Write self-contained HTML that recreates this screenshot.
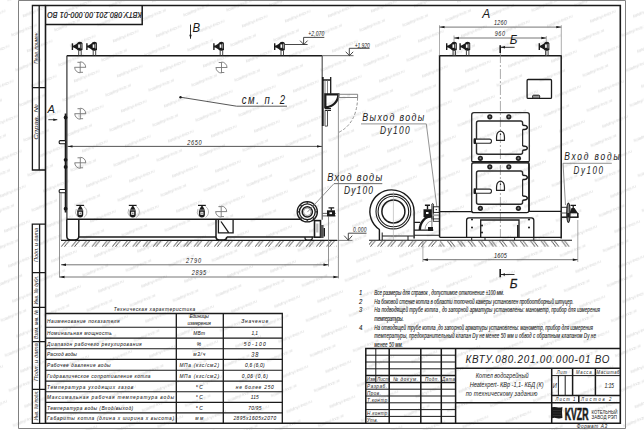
<!DOCTYPE html>
<html><head><meta charset="utf-8">
<style>
html,body{margin:0;padding:0;background:#fff;width:644px;height:430px;overflow:hidden}
svg{display:block}
text{font-family:"Liberation Sans",sans-serif;font-style:italic}
.up{font-style:normal}
.b{font-weight:bold}
</style></head>
<body>
<svg width="644" height="430" viewBox="0 0 644 430" fill="#1a1a1a">
<rect x="0" y="0" width="644" height="430" fill="#fff"/>
<rect x="0" y="0" width="644" height="430" fill="url(#wm)"/>
<!-- FRAME -->
<g id="frame" fill="none">
<path d="M18.5 0.5 H625.5 V428.5 H18.5 Z" stroke="#808080" stroke-width="1"/>
<path d="M45.5 5.5 H620.3 V423.3 H45.5 Z" stroke="#1a1a1a" stroke-width="1.6"/>
<!-- top-left stamp -->
<path d="M45.5 24.4 H142.2 V5.5" stroke="#1a1a1a" stroke-width="1.5"/>
<!-- left stamps upper -->
<path d="M45.5 5.5 H32.4 V170 H45.5 M39.2 5.5 V170 M32.4 87.6 H45.5" stroke="#1a1a1a" stroke-width="1.3"/>
<!-- left stamps lower -->
<path d="M45.5 224.2 H32.3 V423.3 H45.5 M39.6 224.2 V423.3 M32.3 272.6 H45.5 M32.3 307.3 H45.5 M32.3 341.6 H45.5 M32.3 389.3 H45.5" stroke="#1a1a1a" stroke-width="1.3"/>
</g>
<g id="stamptext" font-size="5.2">
<text transform="translate(141.8,11.9) rotate(180) scale(0.85,1)" font-size="8.3" stroke="#1a1a1a" stroke-width="0.25" textLength="111.2" lengthAdjust="spacing">КВТУ.080.201.00.000-01 ВО</text>
<text transform="translate(38.2,63.8) rotate(-90)" font-size="5.6" textLength="32.6" lengthAdjust="spacingAndGlyphs">Перв. примен.</text>
<text transform="translate(38.2,139.8) rotate(-90)" font-size="5.6" textLength="35.5" lengthAdjust="spacingAndGlyphs">Справ. №</text>
<text transform="translate(38.2,262) rotate(-90)" font-size="5.6" textLength="34" lengthAdjust="spacingAndGlyphs">Подп. и дата</text>
<text transform="translate(38.2,304.5) rotate(-90)" font-size="5.6" textLength="29" lengthAdjust="spacingAndGlyphs">Инв. № дубл.</text>
<text transform="translate(38.2,339) rotate(-90)" font-size="5.6" textLength="29" lengthAdjust="spacingAndGlyphs">Взам. инв. №</text>
<text transform="translate(38.2,381) rotate(-90)" font-size="5.6" textLength="38" lengthAdjust="spacingAndGlyphs">Подп. и дата</text>
<text transform="translate(38.2,420.5) rotate(-90)" font-size="5.6" textLength="30" lengthAdjust="spacingAndGlyphs">Инв. № подл.</text>
</g>

<!-- TABLE -->
<g id="table" fill="none" stroke="#1a1a1a">
<path d="M45.5 313.5 H282.3 V423.3 M176.3 313.5 V423.3 M223.3 313.5 V423.3" stroke-width="1.3"/>
<path d="M45.5 327.3 H282.3 M45.5 338.1 H282.3 M45.5 348.7 H282.3 M45.5 359.4 H282.3 M45.5 370.2 H282.3 M45.5 381.1 H282.3 M45.5 391.7 H282.3 M45.5 402.4 H282.3 M45.5 412.9 H282.3" stroke-width="1.1"/>
</g>
<g id="tabletext" font-size="5.9" fill="#1a1a1a" stroke="#1a1a1a" stroke-width="0.05">
<text transform="translate(113.8,310.5) scale(0.82,1)" textLength="99.4" lengthAdjust="spacing">Техническая характеристика</text>
<text transform="translate(47.0,322.6) scale(0.82,1)" textLength="88.5" lengthAdjust="spacing">Наименование показателя</text>
<text transform="translate(47.0,335.1) scale(0.82,1)" textLength="79.0" lengthAdjust="spacing">Номинальная мощность</text>
<text transform="translate(47.0,345.7) scale(0.82,1)" textLength="115.5" lengthAdjust="spacing">Диапазон рабочего регулирования</text>
<text transform="translate(47.0,356.4) scale(0.82,1)" textLength="36.5" lengthAdjust="spacing">Расход воды</text>
<text transform="translate(47.0,367.2) scale(0.82,1)" textLength="77.6" lengthAdjust="spacing">Рабочее давление воды</text>
<text transform="translate(47.0,378.1) scale(0.82,1)" textLength="126.3" lengthAdjust="spacing">Гидравлическое сопротивление котла</text>
<text transform="translate(47.0,388.7) scale(0.82,1)" textLength="105.1" lengthAdjust="spacing">Температура уходящих газов</text>
<text transform="translate(47.0,399.4) scale(0.82,1)" textLength="154.9" lengthAdjust="spacing">Максимальная рабочая температура воды</text>
<text transform="translate(47.0,409.9) scale(0.82,1)" textLength="105.1" lengthAdjust="spacing">Температура воды (Вход/выход)</text>
<text transform="translate(47.0,420.3) scale(0.82,1)" textLength="154.9" lengthAdjust="spacing">Габариты котла (длина х ширина х высота)</text>
<g text-anchor="start">
<text transform="translate(189.48,318.2) scale(0.82,1)" textLength="23.7" lengthAdjust="spacing">Единицы</text>
<text transform="translate(187.56,325.2) scale(0.82,1)" textLength="28.4" lengthAdjust="spacing">измерения</text>
<text transform="translate(193.34,335.1) scale(0.82,1)" textLength="14.3" lengthAdjust="spacing">МВт</text>
<text transform="translate(196.70,345.7) scale(0.82,1)" textLength="6.1" lengthAdjust="spacing">%</text>
<text transform="translate(193.21,356.4) scale(0.82,1)" textLength="14.6" lengthAdjust="spacing">м3/ч</text>
<text transform="translate(179.40,367.2) scale(0.82,1)" textLength="48.3" lengthAdjust="spacing">МПа (кгс/см2)</text>
<text transform="translate(179.40,378.1) scale(0.82,1)" textLength="48.3" lengthAdjust="spacing">МПа (кгс/см2)</text>
<text transform="translate(195.71,388.7) scale(0.82,1)" textLength="8.5" lengthAdjust="spacing">°С</text>
<text transform="translate(195.71,399.4) scale(0.82,1)" textLength="8.5" lengthAdjust="spacing">°С</text>
<text transform="translate(195.71,409.9) scale(0.82,1)" textLength="8.5" lengthAdjust="spacing">°С</text>
<text transform="translate(195.18,420.3) scale(0.82,1)" textLength="9.8" lengthAdjust="spacing">мм</text>
<text transform="translate(241.31,322.6) scale(0.82,1)" textLength="32.9" lengthAdjust="spacing">Значение</text>
<text transform="translate(251.56,335.1) scale(0.82,1)" textLength="7.9" lengthAdjust="spacing">1,1</text>
<text transform="translate(243.81,345.7) scale(0.82,1)" textLength="26.8" lengthAdjust="spacing">50-100</text>
<text transform="translate(251.31,357.0) scale(0.82,1)" font-size="6.8" textLength="8.5" lengthAdjust="spacing">38</text>
<text transform="translate(245.08,367.2) scale(0.82,1)" textLength="23.7" lengthAdjust="spacing">0,6 (6,0)</text>
<text transform="translate(241.80,378.1) scale(0.82,1)" textLength="31.7" lengthAdjust="spacing">0,06 (0,6)</text>
<text transform="translate(235.82,388.7) scale(0.82,1)" textLength="46.3" lengthAdjust="spacing">не более 250</text>
<text transform="translate(250.78,399.4) scale(0.82,1)" textLength="9.8" lengthAdjust="spacing">115</text>
<text transform="translate(248.20,409.9) scale(0.82,1)" textLength="16.1" lengthAdjust="spacing">70/95</text>
<text transform="translate(233.44,420.3) scale(0.82,1)" textLength="52.1" lengthAdjust="spacing">2895х1605х2070</text>
</g>
</g>

<!-- TITLE BLOCK -->
<g id="title" fill="none" stroke="#1a1a1a">
<path d="M365.8 423.3 V348.4 H620.3 M389.2 348.4 V423.3 M420.8 348.4 V423.3 M441.3 348.4 V423.3 M455.6 348.4 V423.3 M365.8 375.6 H455.6 M365.8 382.4 H455.6 M455.6 368.3 H620.3 M455.6 402.8 H620.3 M551.7 368.3 V423.3 M572.6 368.3 V395.5 M595.4 368.3 V395.5 M551.7 395.5 H620.3 M578.8 395.5 V402.8" stroke-width="1.5"/>
<path d="M375.8 348.4 V382.4 M365.8 355.2 H455.6 M365.8 362 H455.6 M365.8 368.8 H455.6 M365.8 389.2 H455.6 M365.8 396 H455.6 M365.8 402.8 H455.6 M365.8 409.6 H455.6 M365.8 416.4 H455.6 M551.7 375.6 H620.3 M558.4 375.6 V395.5 M565.2 375.6 V395.5" stroke-width="1"/>
</g>
<g id="titletext" font-size="5.6">
<text transform="translate(366.5,381.0) scale(0.82,1)" textLength="11.0" lengthAdjust="spacing">Изм</text>
<text transform="translate(377.0,381.0) scale(0.82,1)" textLength="14.6" lengthAdjust="spacing">Лист</text>
<text transform="translate(393.0,381.0) scale(0.82,1)" textLength="30.5" lengthAdjust="spacing">№ докум.</text>
<text transform="translate(425.0,381.0) scale(0.82,1)" textLength="17.1" lengthAdjust="spacing">Подп.</text>
<text transform="translate(442.0,381.0) scale(0.82,1)" textLength="15.9" lengthAdjust="spacing">Дата</text>
<text transform="translate(367.0,388.0) scale(0.82,1)" textLength="24.4" lengthAdjust="spacing">Разраб.</text>
<text transform="translate(367.0,394.8) scale(0.82,1)" textLength="17.1" lengthAdjust="spacing">Пров.</text>
<text transform="translate(367.0,401.6) scale(0.82,1)" textLength="26.8" lengthAdjust="spacing">Т.контр.</text>
<text transform="translate(367.0,415.2) scale(0.82,1)" textLength="26.8" lengthAdjust="spacing">Н.контр.</text>
<text transform="translate(367.0,422.0) scale(0.82,1)" textLength="13.4" lengthAdjust="spacing">Утв.</text>
<text transform="translate(465.5,363.2) scale(0.85,1)" font-size="11.6" fill="#222" textLength="169.4" lengthAdjust="spacing">КВТУ.080.201.00.000-01 ВО</text>
<g text-anchor="start">
<text transform="translate(475.84,378.0) scale(0.82,1)" font-size="6.8" textLength="64.3" lengthAdjust="spacing">Котел водогрейный</text>
<text transform="translate(469.66,387.0) scale(0.82,1)" font-size="6.8" textLength="90.1" lengthAdjust="spacing">Heatexpert- КВр -1,1- КБД (К)</text>
<text transform="translate(465.64,395.6) scale(0.82,1)" font-size="6.8" textLength="87.7" lengthAdjust="spacing">по техническому заданию</text>
<text transform="translate(556.70,374.3) scale(0.82,1)" font-size="5.2" textLength="12.2" lengthAdjust="spacing">Лит</text>
<text transform="translate(576.01,374.3) scale(0.82,1)" font-size="5.2" textLength="19.0" lengthAdjust="spacing">Масса</text>
<text transform="translate(596.56,374.3) scale(0.82,1)" font-size="5.2" textLength="27.9" lengthAdjust="spacing">Масштаб</text>
<text transform="translate(604.58,388.0) scale(0.82,1)" font-size="6.5" textLength="11.5" lengthAdjust="spacing">1:15</text>
</g>
<text transform="translate(552.7,388.0) scale(0.82,1)" font-size="7" textLength="6.5" lengthAdjust="spacing">И</text>
<text transform="translate(555.6,401.2) scale(0.82,1)" font-size="5.2" textLength="24.1" lengthAdjust="spacing">Лист   1</text>
<text transform="translate(581.0,401.2) scale(0.82,1)" font-size="5.2" textLength="37.2" lengthAdjust="spacing">Листов       2</text>
<text x="591.6" y="413.5" font-size="5.1" class="up" textLength="26" lengthAdjust="spacingAndGlyphs">КОТЕЛЬНЫЙ</text>
<text x="591.6" y="419.2" font-size="5.1" class="up" textLength="25.4" lengthAdjust="spacingAndGlyphs">ЗАВОД РЭП</text>
<text transform="translate(576.7,428.2) scale(0.82,1)" font-size="5.8" textLength="37.0" lengthAdjust="spacing">Формат   А3</text>
<text x="564.8" y="419.6" font-size="16.8" class="up b" stroke="#1a1a1a" stroke-width="0.7" textLength="23.6" lengthAdjust="spacingAndGlyphs">KVZR</text>
</g>
<g id="kvzrlogo" fill="#1a1a1a">
<path d="M551.7 407.3 Q554.5 406.6 557 407.3 Q559.5 408 562.4 407.1 Q561.6 412.5 562.4 418.1 Q559.5 419 557 418.2 Q554.5 417.5 551.7 418.2 Z"/>
<path d="M553 410.5 H561 M553 413 H561 M553 415.5 H561" stroke="#444" stroke-width="0.5"/>
</g>

<!-- DEFS -->
<defs>
<pattern id="wm" patternUnits="userSpaceOnUse" width="43.3" height="35.28" patternTransform="translate(372.6,25) rotate(-6.6)">
<g font-family="Liberation Sans" font-size="4.1" fill="#d0d0d0" style="font-style:normal"><text transform="translate(-12.95,5.21) rotate(-16.4)">kotelnyi-kvzr.ru</text><text transform="translate(30.35,5.21) rotate(-16.4)">kotelnyi-kvzr.ru</text><text transform="translate(-12.95,40.49) rotate(-16.4)">kotelnyi-kvzr.ru</text><text transform="translate(30.35,40.49) rotate(-16.4)">kotelnyi-kvzr.ru</text><text transform="translate(0.30,22.85) rotate(-16.4)">kotelnyi-kvzr.ru</text></g>
</pattern>

<g id="vtop">
<path d="M-7.3 -12.4 V-5.7" stroke="#1a1a1a" stroke-width="1.4"/>
<path d="M-7.3 -9.2 H-4.5" stroke="#1a1a1a" stroke-width="1.9"/>
<path d="M-5.8 -10.3 L-1.8 -12.6 V-5.8 L-5.8 -8.1 Z" fill="#1a1a1a"/>
<path d="M-2.4 -12.2 Q-2.4 -14 0.2 -14 Q2.8 -14 2.8 -12.2 V-6.4 Q2.8 -5 1.4 -5 H-1 Q-2.4 -5 -2.4 -6.4 Z" fill="#1a1a1a"/>
<rect x="-1.5" y="-11.3" width="1.7" height="3.4" fill="#fff"/>
<rect x="0.9" y="-12" width="1.1" height="4.8" fill="#9a9a9a"/>
<path d="M-1 -5 V0 M1.5 -5 V0" stroke="#333" stroke-width="0.9"/>
</g>
<g id="vbot">
<line x1="-4" y1="0.2" x2="3.8" y2="0.2" stroke="#1a1a1a" stroke-width="1.2"/>
<line x1="0" y1="0" x2="0" y2="2" stroke="#1a1a1a" stroke-width="1.3"/>
<path d="M-0.9 1.3 H0.9 L2.8 4.5 H-2.8 Z" fill="#1a1a1a"/>
<path d="M-3.1 5 H2.9 V9.4 Q2.9 12.3 -0.1 12.3 Q-3.1 12.3 -3.1 9.4 Z" fill="#1a1a1a"/>
<rect x="-1.6" y="6.6" width="3" height="3" fill="#fff"/>
<rect x="-0.7" y="7.4" width="1.4" height="1.5" fill="#777"/>
</g>
<g id="csym" fill="none" stroke="#777" stroke-width="0.9">
<path d="M0 -5.5 A5.5 5.5 0 0 1 5.5 0 M-5.5 0 A5.5 5.5 0 0 0 0 5.5"/>
<path d="M-5.7 0 H5.7 M0 -5.3 V5.5 M-2.8 -5 H0 M0 5 H2.8"/>
</g>
<pattern id="hatchL" patternUnits="userSpaceOnUse" width="10.2" height="6.2" x="0" y="240.6">
<path d="M5.2 0 L0 6.2 M8.2 0 L3 6.2" stroke="#2a2a2a" stroke-width="0.8"/>
</pattern>
<pattern id="hatchR" patternUnits="userSpaceOnUse" width="10.4" height="6.2" x="0" y="240.6">
<path d="M0 0 L4.8 6.2 M2.9 0 L7.7 6.2" stroke="#2a2a2a" stroke-width="0.8"/>
</pattern>
<g id="door">
<path d="M471.7 161.5 V114.9 Q471.7 112.7 473.9 112.7 H527.1 Q529.3 112.7 529.3 114.9 V161.5" fill="none" stroke="#2a2a2a" stroke-width="1.3"/>
<path d="M522.6 125.3 V123 Q522.6 121 520.6 121 H478.5 Q476.5 121 476.5 123 V152.3 Q476.5 154.3 478.5 154.3 H520.6 Q522.6 154.3 522.6 152.3 V150.3" fill="none" stroke="#2a2a2a" stroke-width="1.4"/>
<path d="M522.6 129.6 V145.9" fill="none" stroke="#2a2a2a" stroke-width="1.2"/>
<g fill="#222"><circle cx="489.8" cy="116.8" r="2.6"/><circle cx="508.8" cy="116.8" r="2.6"/><circle cx="480.4" cy="158.3" r="2.6"/><circle cx="518.4" cy="158.3" r="2.6"/></g>
<g fill="#888"><circle cx="489.8" cy="116.8" r="1"/><circle cx="508.8" cy="116.8" r="1"/><circle cx="480.4" cy="158.3" r="1"/><circle cx="518.4" cy="158.3" r="1"/></g>
<rect x="474.6" y="139.1" width="16.9" height="4.2" rx="2" fill="#fff" stroke="#2a2a2a" stroke-width="1.1"/>
<rect x="473.6" y="138.3" width="2.4" height="5.8" rx="0.8" fill="#1a1a1a"/>
<path d="M522.6 125.3 Q527.3 125.3 527.3 127.5 Q527.3 129.6 522.6 129.6 M522.6 145.9 Q527.3 145.9 527.3 148.1 Q527.3 150.3 522.6 150.3" fill="none" stroke="#1a1a1a" stroke-width="1.5"/>
<path d="M496.6 140.4 Q496.2 134.5 497.8 132.6 Q500.5 129.8 503.2 132.6 Q504.8 134.5 504.4 140.4 Z" fill="none" stroke="#222" stroke-width="1.2"/>
<circle cx="500.5" cy="134.3" r="0.7" fill="#222"/>
</g>
</defs>

<!-- watermark-ish faint marks -->
<g id="side" fill="none" stroke="#1a1a1a">
<!-- boiler body -->
<path d="M66.8 55.7 H322.2" stroke-width="1.5"/><path d="M66.9 55.7 V219.3" stroke="#333" stroke-width="1.2"/><path d="M322.2 55.7 H353.5" stroke="#555" stroke-width="0.9"/>
<path d="M322.2 55.7 V219.8" stroke="#555" stroke-width="1.2"/>
<!-- front plate -->
<path d="M65.6 113.5 V212.5" stroke-width="1.8"/>
<circle cx="65.6" cy="117.5" r="1.9" fill="#1a1a1a" stroke="none"/>
<circle cx="65.6" cy="159.8" r="1.9" fill="#1a1a1a" stroke="none"/>
<circle cx="65.6" cy="166.9" r="1.9" fill="#1a1a1a" stroke="none"/>
<circle cx="65.6" cy="208.7" r="1.9" fill="#1a1a1a" stroke="none"/>
<rect x="59.2" y="140.6" width="6.4" height="3.2" rx="1" stroke-width="1.1" fill="#fff"/>
<rect x="59.2" y="189.5" width="6.4" height="3.2" rx="1" stroke-width="1.1" fill="#fff"/>
<path d="M59.5 192.7 V277.5 M61 192.7 V240" stroke="#777" stroke-width="0.8"/>
<!-- base frame -->
<path d="M66.8 219.3 H313.8 M78.8 237.1 H216 M226.7 237.1 H313.8" stroke-width="1.5"/>
<path d="M66.8 219.3 V236 Q66.8 240 70.8 240 H74.8 Q78.8 240 78.8 236 V219.3" stroke-width="1.5"/>
<path d="M216 219.3 V237.1 Q216 240 219 240 H224 Q226.7 240 226.7 237.1" stroke-width="1.5"/>
<path d="M218.4 219.3 V232.8 H233.1 V219.3 M221 221.5 L228.5 232.3" stroke-width="1.3"/>
<!-- ground -->
<path d="M61 240.4 H337" stroke-width="1.1"/><path d="M337 240.4 H352.5" stroke="#555" stroke-width="0.8"/>
<rect x="61" y="240.6" width="276" height="6.2" fill="url(#hatchL)" stroke="none"/>
<!-- burner box right bottom -->
<rect x="314.5" y="220.6" width="6" height="16.6" stroke-width="1.6" fill="#fff"/>
<rect x="316.2" y="223.5" width="2.2" height="9" fill="#bbb" stroke="none"/>
<rect x="320.6" y="225" width="3" height="13" fill="#555" stroke="none"/>
<rect x="323.6" y="228" width="1.4" height="8.5" fill="#1a1a1a" stroke="none"/>
<path d="M305 237.1 V238 Q305 240 307 240 H310.3 Q312.3 240 312.3 238 V237.1" stroke-width="1.2"/>
</g>
<use href="#vtop" x="79.7" y="55.7"/>
<use href="#vtop" x="94.2" y="55.7"/>
<use href="#vtop" x="221.2" y="55.7"/>
<use href="#vtop" x="282" y="55.7"/>
<g fill="none" stroke="#999" stroke-width="0.7"><path d="M83.8 206.5 A6.5 6.5 0 0 1 83.8 217.5"/><path d="M76.3 209 A6.5 6.5 0 0 0 77.3 216.5"/><path d="M136.3 206.5 A6.5 6.5 0 0 1 136.3 217.5"/><path d="M128.8 209 A6.5 6.5 0 0 0 129.8 216.5"/><path d="M205.5 206.5 A6.5 6.5 0 0 1 205.5 217.5"/><path d="M198.0 209 A6.5 6.5 0 0 0 199.0 216.5"/></g>
<use href="#vbot" x="80.3" y="205.2"/>
<use href="#vbot" x="132.8" y="205.2"/>
<use href="#vbot" x="202" y="205.2"/>
<use href="#csym" x="80.2" y="67.3"/>
<use href="#csym" x="221.5" y="67.5"/>
<use href="#csym" x="80.3" y="113.7"/>
<use href="#csym" x="80.3" y="162.8"/>
<use href="#csym" x="221.2" y="211.6"/>


<!-- SIDE VIEW extras -->
<g fill="none" stroke="#1a1a1a">
<!-- outlet elbow -->
<path d="M322 80 H330.7 M330.7 77 V93.7" stroke-width="1.3"/>
<path d="M325 80 V94 M327.5 80 V94" stroke="#666" stroke-width="0.8"/>
<path d="M325.3 94.3 H338.4 A13 13 0 0 1 325.3 107.3 Z" stroke-width="2.3"/>
<path d="M325 108.5 H331 M325 110.3 H331" stroke-width="1.2"/>
<path d="M325 110.3 V126.1 H327.5 V110.3" stroke="#555" stroke-width="1"/>
<path d="M338.4 94.3 H357.6 V97.5 H338.4" stroke="#777" stroke-width="0.9"/>
<path d="M357.6 97.5 Q357 124 337.5 133" stroke="#777" stroke-width="0.8" stroke-dasharray="3 1.8"/>
<path d="M322.8 77 V126" stroke="#1a1a1a" stroke-width="1.8"/>
<path d="M338.4 94.3 V270 M338.4 270 V278.4 M328.5 216.4 V266.5" stroke="#777" stroke-width="0.8"/>
<!-- inlet flange -->
<circle cx="307.3" cy="211.8" r="10.1" stroke-width="1.3" fill="#fff"/>
<circle cx="307.3" cy="211.8" r="7.9" stroke-width="1.3"/>
<circle cx="316.30" cy="211.80" r="0.9" fill="#333" stroke="none"/><circle cx="313.66" cy="218.16" r="0.9" fill="#333" stroke="none"/><circle cx="307.30" cy="220.80" r="0.9" fill="#333" stroke="none"/><circle cx="300.94" cy="218.16" r="0.9" fill="#333" stroke="none"/><circle cx="298.30" cy="211.80" r="0.9" fill="#333" stroke="none"/><circle cx="300.94" cy="205.44" r="0.9" fill="#333" stroke="none"/><circle cx="307.30" cy="202.80" r="0.9" fill="#333" stroke="none"/><circle cx="313.66" cy="205.44" r="0.9" fill="#333" stroke="none"/>
<circle cx="307.3" cy="211.8" r="5.1" stroke-width="1.5"/>
<circle cx="307.3" cy="211.8" r="3.8" stroke="#777" stroke-width="0.7"/>
<path d="M307.4 212.1 L334 183.6 H382.2" stroke="#777" stroke-width="0.8"/>
<!-- side inlet pipe & valve -->
<path d="M322.4 213.4 H335.8 M322.4 215.9 H335.8" stroke="#555" stroke-width="0.9"/>
<path d="M328.5 207.8 H334.2 M331.3 207.8 V210.5" stroke-width="1.3"/>
<path d="M327 210.3 H335 V216.3 H327 Z" fill="#1a1a1a" stroke="none"/>
<rect x="329.5" y="212.3" width="2.5" height="1.8" fill="#fff" stroke="none"/>
<!-- dims -->
<path d="M67.5 146.4 H322" stroke="#444" stroke-width="0.9"/>
<path d="M67.5 146.4 l5 -1.2 v2.4 Z M322 146.4 l-5 -1.2 v2.4 Z" fill="#1a1a1a" stroke="none"/>
<path d="M61 264.8 H328.5 M59.5 277 H338.4" stroke="#666" stroke-width="0.9"/>
<path d="M61 264.8 l5 -1.2 v2.4 Z M328.5 264.8 l-5 -1.2 v2.4 Z M59.5 277 l5 -1.2 v2.4 Z M338.4 277 l-5 -1.2 v2.4 Z" fill="#1a1a1a" stroke="none"/>
<!-- leader см п 2 -->
<path d="M180.5 97.2 L236.6 106.2 H287" stroke="#444" stroke-width="0.9"/>
<circle cx="180.5" cy="97.2" r="1.2" fill="#1a1a1a" stroke="none"/>
<!-- elevations -->
<path d="M284.6 44.5 H307.6 M300 40.6 L303.8 44.5 L307.6 40.6 M303.6 44.5 V37.4 H324.3" stroke="#333" stroke-width="0.9"/>
<path d="M345.7 51.8 L349.5 55.6 L353.2 51.8 M349.3 55.6 V48.3 H369.6" stroke="#333" stroke-width="0.9"/>
<path d="M344.2 235.7 L348.3 240.2 L352.2 235.7 M348.3 240.2 V233.2 H366.5" stroke="#333" stroke-width="0.9"/>
<!-- section A arrow (left) -->
<path d="M48.3 119.7 H57.3" stroke="#333" stroke-width="0.9"/>
<path d="M57.3 119.7 l-4 -1.2 v2.4 Z" fill="#1a1a1a" stroke="none"/>
<!-- view B arrow -->
<path d="M190.5 24.6 V38.7" stroke="#333" stroke-width="1"/>
<path d="M190.5 38.7 l-1.2 -4 h2.4 Z" fill="#1a1a1a" stroke="none"/>
</g>
<g font-size="8">
<text transform="translate(241.7,103.8) scale(0.8,1)" font-size="12" textLength="54.4" lengthAdjust="spacing">см. п. 2</text>
<text transform="translate(187.2,144.8) scale(0.8,1)" font-size="7" textLength="17.9" lengthAdjust="spacing">2650</text>
<text transform="translate(186.0,262.5) scale(0.8,1)" font-size="7" textLength="18.8" lengthAdjust="spacing">2790</text>
<text transform="translate(191.8,274.9) scale(0.8,1)" font-size="7" textLength="17.9" lengthAdjust="spacing">2895</text>
<text transform="translate(308.3,36.3) scale(0.8,1)" font-size="6.3" textLength="20.0" lengthAdjust="spacing">+2,070</text>
<text transform="translate(354.7,47.5) scale(0.8,1)" font-size="6.3" textLength="18.8" lengthAdjust="spacing">+1,920</text>
<text transform="translate(353.1,232.1) scale(0.8,1)" font-size="6.3" textLength="16.9" lengthAdjust="spacing">0.000</text>
<text x="47.6" y="113.1" font-size="11.5" textLength="7.4" lengthAdjust="spacingAndGlyphs">А</text>
<text x="192.4" y="32.4" font-size="12" textLength="7.6" lengthAdjust="spacingAndGlyphs">В</text>
<text transform="translate(327.2,180.5) scale(0.8,1)" font-size="11.5" textLength="68.8" lengthAdjust="spacing">Вход воды</text>
<text transform="translate(344.0,194.2) scale(0.8,1)" font-size="10.5" textLength="36.2" lengthAdjust="spacing">Dy100</text>
<text transform="translate(362.3,120.8) scale(0.8,1)" font-size="11" textLength="77.5" lengthAdjust="spacing">Выход воды</text>
<text transform="translate(380.0,134.3) scale(0.8,1)" font-size="10.5" textLength="37.2" lengthAdjust="spacing">Dy100</text>
<text transform="translate(564.3,159.8) scale(0.8,1)" font-size="10.5" textLength="69.1" lengthAdjust="spacing">Вход воды</text>
<text transform="translate(573.6,173.7) scale(0.8,1)" font-size="10" textLength="36.6" lengthAdjust="spacing">Dy100</text>
</g>
<g fill="none" stroke="#333">
<path d="M361 123.9 H426.3 L436.9 207" stroke="#777" stroke-width="0.8"/>
<path d="M611.8 163.3 H563 L565.5 205" stroke="#777" stroke-width="0.8"/>
<path d="M334 183.6 H382.2" stroke="#777" stroke-width="0.9"/>
</g>

<!-- FAN -->
<g fill="none" stroke="#1a1a1a">
<path d="M379.4 240 V230 L379.1 229.2 A21.6 21.6 0 0 1 391.5 189.9 A22.6 21.6 0 0 1 414.1 211.5 V238.5" stroke-width="1.4"/>
<circle cx="393.4" cy="211.5" r="17.4" stroke-width="1.1"/>
<circle cx="393.4" cy="211.5" r="15.3" stroke-width="1.1"/>
<circle cx="393.4" cy="211.5" r="11.5" stroke-width="1.5"/>
<path d="M382.2 232.5 V240 M382.2 236 H413.6 M408 236 V240" stroke-width="1"/>
<path d="M393.4 192 V240" stroke="#aaa" stroke-width="0.6"/>

<path d="M369 240.3 H439.7" stroke-width="1.1"/>
<!-- inlet elbow -->
<path d="M414.2 222.4 H420.2 M414.2 230.1 H433.3 M414.2 235.2 H439.6" stroke-width="1.1"/>
<path d="M419.8 230 A12.1 13.9 0 0 1 431.9 216.1" stroke-width="2.4"/>
<path d="M425 230 A6.9 9 0 0 1 431.9 221" stroke="#888" stroke-width="0.8"/>
<path d="M431.9 216.1 V230" stroke="#666" stroke-width="0.9"/>
<rect x="428" y="227" width="5" height="4" fill="#1a1a1a" stroke="none"/>
<path d="M424.9 205.3 H430 M427.5 205.3 V209.5" stroke-width="1.4"/>
<path d="M423.5 209.3 H431.8 V217.5 Q427 218.5 423.5 217 Z" fill="#1a1a1a" stroke="none"/>
<rect x="426" y="212" width="2.5" height="2" fill="#fff" stroke="none"/>
<path d="M431.9 219.4 V204 Q432.6 203 433.3 204 V219.4" stroke-width="0.9"/>
<rect x="433.3" y="206.8" width="6" height="5.6" stroke-width="0.9"/>
<circle cx="436.3" cy="209.6" r="0.7" fill="#1a1a1a" stroke="none"/>
<rect x="433.3" y="214.3" width="6" height="1.8" fill="#aaa" stroke="none"/>
<rect x="433.3" y="218.9" width="6" height="2.4" stroke-width="0.8"/>
</g>
<rect x="369" y="240.6" width="70.7" height="6.2" fill="url(#hatchL)"/>

<!-- FRONT VIEW -->
<g fill="none" stroke="#1a1a1a">
<path d="M439.6 237.3 V55.7 H561.2 V238.5" stroke-width="1.5"/>
<path d="M439.5 25.2 V55.7 M561.3 25.2 V55.7 M454 35.5 V55.7 M546.3 36 V55.7" stroke="#888" stroke-width="0.7"/>
<path d="M439.5 27.1 H561.3 M454 38 H546.3" stroke="#666" stroke-width="0.9"/>
<path d="M439.5 27.1 l5 -1.2 v2.4 Z M561.3 27.1 l-5 -1.2 v2.4 Z M454 38 l5 -1.2 v2.4 Z M546.3 38 l-5 -1.2 v2.4 Z" fill="#1a1a1a" stroke="none"/>
<path d="M500.4 53 V237" stroke="#888" stroke-width="0.7" stroke-dasharray="10 2 2 2"/>
<path d="M500.2 45.3 V53" stroke-width="1.6"/>
<path d="M500.2 47.3 H514.6" stroke-width="0.9"/>
<path d="M501 47.3 l4 -1.2 v2.4 Z" fill="#1a1a1a" stroke="none"/>
<rect x="527.1" y="79.5" width="24.4" height="18.9" rx="1" stroke-width="1.3"/>
<rect x="532.6" y="95.2" width="7.1" height="3" rx="1" stroke-width="1" fill="#999"/>
<!-- separators -->
<path d="M439.6 211.6 H472.4 M528.7 211.4 H561.2" stroke-width="1.2"/>
<path d="M471.7 211 Q471.7 212.7 473.7 212.7 H526.7 Q528.7 212.7 528.7 211 V162 M471.7 161.5 H529.3 M471.7 163 H529.3" stroke-width="1.2"/>
<!-- ash pit -->
<path d="M466.6 237.9 V220.3 Q466.6 217.8 469 217.8 H531.3 Q533.8 217.8 533.8 220.3 V237.9" stroke-width="1.3"/>
<path d="M480.7 237.3 V220 H519 V237.3" stroke-width="1.3"/>
<path d="M517.8 225 V237" stroke-width="1.5"/>
<path d="M439.6 237.4 H561.2" stroke-width="1.4"/>
<path d="M471.7 237.4 V240 M485 237.4 V240 M514.6 237.4 V240 M533.8 237.4 V240" stroke-width="1"/>
<path d="M422.9 240 V262 M577.8 220 V262" stroke="#888" stroke-width="0.7"/>
<path d="M422.9 259.7 H577.8" stroke="#666" stroke-width="0.9"/>
<path d="M422.9 259.7 l5 -1.2 v2.4 Z M577.8 259.7 l-5 -1.2 v2.4 Z" fill="#1a1a1a" stroke="none"/>
<path d="M439.7 240.3 H572" stroke-width="1.1"/>
<!-- right inlet -->
<path d="M561.2 207.3 H568" stroke-width="0.9"/>
<path d="M561.2 213 H577.8" stroke="#555" stroke-width="1"/>
<path d="M561.2 217.2 H578.5" stroke-width="1.5"/>
<path d="M577.8 213 V217.5" stroke-width="1.6"/>
<ellipse cx="568.4" cy="212.8" rx="1.6" ry="9.6" fill="#888" stroke-width="1.2"/>
<rect x="567.2" y="213" width="2.4" height="4.5" fill="#1a1a1a" stroke="none"/>
<path d="M570.5 205.3 H576 M573.2 205.3 V208" stroke-width="1.3"/>
<path d="M571.5 208 H574.5 L577.8 213 H569.6 Z" fill="#1a1a1a" stroke="none"/>
<!-- section B mark bottom -->
<path d="M500.2 268.9 V277.3" stroke-width="1.6"/><path d="M500.2 274.5 H514.5" stroke-width="0.9"/><path d="M501 274.5 l4 -1.2 v2.4 Z" fill="#1a1a1a" stroke="none"/>
</g>
<rect x="439.7" y="240.6" width="132.3" height="6.2" fill="url(#hatchR)"/>
<use href="#door"/>
<use href="#door" y="50"/>
<g fill="#1a1a1a">
<circle cx="472" cy="219.5" r="1"/><circle cx="472" cy="227.5" r="1"/>
<circle cx="482" cy="225.5" r="1"/><circle cx="482" cy="232.5" r="1"/>
<circle cx="529" cy="219.5" r="1"/><circle cx="529" cy="227.5" r="1"/>
</g>
<use href="#vtop" x="454" y="55.7"/>
<use href="#vtop" x="467.4" y="55.7"/>
<use href="#vtop" x="546.6" y="55.7"/>
<g>
<text x="482.3" y="18.3" font-size="13" textLength="8" lengthAdjust="spacingAndGlyphs">А</text>
<text transform="translate(494.1,24.9) scale(0.8,1)" font-size="6.8" textLength="16.0" lengthAdjust="spacing">1260</text>
<text transform="translate(494.7,35.8) scale(0.8,1)" font-size="6.8" textLength="12.9" lengthAdjust="spacing">960</text>
<text x="509.8" y="44.2" font-size="13" textLength="7.6" lengthAdjust="spacingAndGlyphs">Б</text>
<text transform="translate(494.0,257.5) scale(0.8,1)" font-size="7" textLength="16.0" lengthAdjust="spacing">1605</text>
<text x="509.8" y="287.8" font-size="13.5" stroke="#1a1a1a" stroke-width="0.3" textLength="7.8" lengthAdjust="spacingAndGlyphs">Б</text>
</g>


<!-- NOTES -->
<g id="notes" font-size="7.4" fill="#1a1a1a" stroke="#1a1a1a" stroke-width="0.12">
<text transform="translate(359.0,295.3) scale(0.8,1)" textLength="3.8" lengthAdjust="spacing">1</text>
<text transform="translate(359.0,303.8) scale(0.8,1)" textLength="5.0" lengthAdjust="spacing">2</text>
<text transform="translate(359.0,312.3) scale(0.8,1)" textLength="5.0" lengthAdjust="spacing">3</text>
<text transform="translate(359.0,329.5) scale(0.8,1)" textLength="5.0" lengthAdjust="spacing">4.</text>
<text transform="translate(374.2,295.3) scale(0.62,1)" textLength="209.7" lengthAdjust="spacing">Все размеры для справок , допустимое отклонение  ±100 мм.</text>
<text transform="translate(374.2,303.8) scale(0.62,1)" textLength="321.6" lengthAdjust="spacing">На боковой стенке котла в области топочной камеры установлен пробоотборный штуцер.</text>
<text transform="translate(374.2,312.3) scale(0.62,1)" textLength="364.2" lengthAdjust="spacing">На   подводящей трубе котла , до запорной арматуры установлены:  манометр, прибор для измерения</text>
<text transform="translate(374.2,320.9) scale(0.62,1)" textLength="47.6" lengthAdjust="spacing">температуры.</text>
<text transform="translate(374.2,329.5) scale(0.62,1)" textLength="352.9" lengthAdjust="spacing">На отводящей трубе котла ,до запорной арматуры установлены: манометр, прибор для измерения</text>
<text transform="translate(374.2,338.0) scale(0.62,1)" textLength="357.7" lengthAdjust="spacing">температуры, предохранительный клапан  Dу не менее  50 мм и обвод с обратным клапаном  Dу не</text>
<text transform="translate(374.2,346.5) scale(0.62,1)" textLength="46.3" lengthAdjust="spacing">менее 50 мм.</text>
</g>

</svg>
</body></html>
